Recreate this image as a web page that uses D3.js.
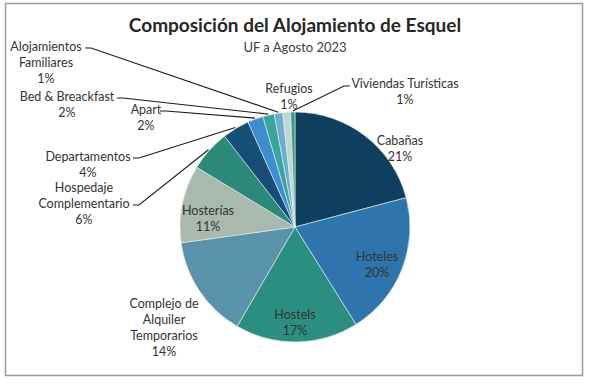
<!DOCTYPE html>
<html>
<head>
<meta charset="utf-8">
<script src="https://cdn.jsdelivr.net/npm/d3@7"></script>
<style>
    body { margin: 0; background: #fff; }
    text { font-family: Lato, 'Open Sans', sans-serif; }
</style>
</head>
<body>
<div id="chart"></div>
<script>
const categories = ['Cabañas', 'Hoteles', 'Hostels', 'Complejo de Alquiler Temporarios', 'Hosterías',
    'Hospedaje Complementario', 'Departamentos', 'Apart', 'Bed & Breackfast',
    'Alojamientos Familiares', 'Refugios', 'Viviendas Turísticas'];
const shares = [20.9, 20.2, 17.3, 14.4, 10.9, 5.8, 3.8, 2.2, 1.6, 1.2, 1.1, 0.6];
const pctLabels = ['21%', '20%', '17%', '14%', '11%', '6%', '4%', '2%', '2%', '1%', '1%', '1%'];
const colors = ['#0e3f5f', '#2e75ae', '#2a8f80', '#5893a9', '#a9b9ae', '#2a897a',
    '#164e76', '#3e8ecf', '#38a69b', '#6caecf', '#bfd8cf', '#3a9b87'];

const width = 592;
const height = 384;
const cx = 295, cy = 227, radius = 115;

// label layout: lines of text, anchor x, first line y, leader start (or null)
const labelLayout = {
    'Cabañas': { lines: ['Cabañas'], x: 400, y: 145, lead: null },
    'Hoteles': { lines: ['Hoteles'], x: 377, y: 261, lead: null },
    'Hostels': { lines: ['Hostels'], x: 295, y: 319, lead: null },
    'Complejo de Alquiler Temporarios': { lines: ['Complejo de', 'Alquiler', 'Temporarios'], x: 164, y: 308, lead: null },
    'Hosterías': { lines: ['Hosterías'], x: 208, y: 215, lead: null },
    'Hospedaje Complementario': { lines: ['Hospedaje', 'Complementario'], x: 84, y: 192, lead: [133, 205] },
    'Departamentos': { lines: ['Departamentos'], x: 88, y: 161, lead: [133, 158] },
    'Apart': { lines: ['Apart'], x: 146, y: 114, lead: [160, 111] },
    'Bed & Breackfast': { lines: ['Bed & Breackfast'], x: 67, y: 101, lead: [117, 98] },
    'Alojamientos Familiares': { lines: ['Alojamientos', 'Familiares'], x: 46, y: 51, lead: [85, 48] },
    'Refugios': { lines: ['Refugios'], x: 289, y: 93, lead: null },
    'Viviendas Turísticas': { lines: ['Viviendas Turísticas'], x: 405, y: 88, lead: [350, 86] }
};

const svg = d3.select('#chart').append('svg')
    .attr('width', width)
    .attr('height', height);

svg.append('rect')
    .attr('x', 5.5)
    .attr('y', 3.5)
    .attr('width', 577)
    .attr('height', 372)
    .attr('fill', '#fff')
    .attr('stroke', '#9a9a9a')
    .attr('stroke-width', 1.5);

svg.append('text')
    .attr('x', cx)
    .attr('y', 32)
    .attr('text-anchor', 'middle')
    .attr('font-size', '19px')
    .attr('font-weight', 'bold')
    .attr('fill', '#262626')
    .text('Composición del Alojamiento de Esquel');

svg.append('text')
    .attr('x', cx)
    .attr('y', 52)
    .attr('text-anchor', 'middle')
    .attr('font-size', '13px')
    .attr('fill', '#404040')
    .text('UF a Agosto 2023');

const data = categories.map((c, i) => ({ name: c, value: shares[i], pct: pctLabels[i], color: colors[i] }));

const pie = d3.pie()
    .value(d => d.value)
    .sort(null);

const arc = d3.arc()
    .innerRadius(0)
    .outerRadius(radius);

const edgeArc = d3.arc()
    .innerRadius(radius + 1)
    .outerRadius(radius + 1);

const arcs = pie(data);

const g = svg.append('g')
    .attr('transform', `translate(${cx},${cy})`);

g.selectAll('path')
    .data(arcs)
    .enter()
    .append('path')
    .attr('d', arc)
    .attr('fill', d => d.data.color)
    .attr('stroke', '#e8f0f0')
    .attr('stroke-width', 0.6);

// leader lines
arcs.forEach(a => {
    const lay = labelLayout[a.data.name];
    if (!lay.lead) return;
    const p = edgeArc.centroid(a);
    const ex = cx + p[0], ey = cy + p[1];
    const sx = lay.lead[0], sy = lay.lead[1];
    const dir = ex > sx ? 1 : -1;
    svg.append('polyline')
        .attr('points', `${sx},${sy} ${sx + dir * 6},${sy} ${ex},${ey}`)
        .attr('fill', 'none')
        .attr('stroke', '#1a1a1a')
        .attr('stroke-width', 1.1);
});

// labels
arcs.forEach(a => {
    const lay = labelLayout[a.data.name];
    const lines = lay.lines.concat([a.data.pct]);
    const t = svg.append('text')
        .attr('text-anchor', 'middle')
        .attr('font-size', '12.5px')
        .attr('fill', '#333');
    lines.forEach((l, i) => {
        t.append('tspan')
            .attr('x', lay.x)
            .attr('y', lay.y + i * 16)
            .text(l);
    });
});
</script>
</body>
</html>
